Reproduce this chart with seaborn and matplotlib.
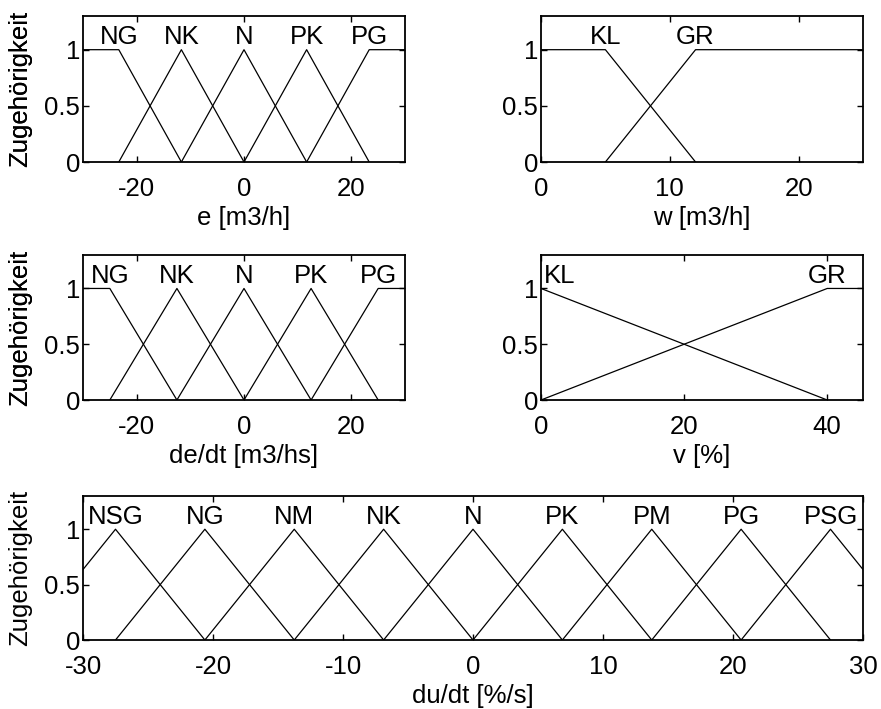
import matplotlib.pyplot as plt
import pandas as pd
import seaborn as sns

# membership functions, one list of breakpoints (x) and degrees (mu) per fuzzy set
e_sets = ["NG", "NK", "N", "PK", "PG"]
e_x = [[-30, -23.33, -11.67], [-23.33, -11.67, 0], [-11.67, 0, 11.67],
       [0, 11.67, 23.33], [11.67, 23.33, 30]]
e_mu = [[1, 1, 0], [0, 1, 0], [0, 1, 0], [0, 1, 0], [0, 1, 1]]

w_sets = ["KL", "GR"]
w_x = [[0, 5, 12], [5, 12, 25]]
w_mu = [[1, 1, 0], [0, 1, 1]]

de_sets = ["NG", "NK", "N", "PK", "PG"]
de_x = [[-30, -25, -12.5], [-25, -12.5, 0], [-12.5, 0, 12.5],
        [0, 12.5, 25], [12.5, 25, 30]]
de_mu = [[1, 1, 0], [0, 1, 0], [0, 1, 0], [0, 1, 0], [0, 1, 1]]

v_sets = ["KL", "GR"]
v_x = [[0, 40], [0, 40, 45]]
v_mu = [[1, 0], [0, 1, 1]]

du_sets = ["NSG", "NG", "NM", "NK", "N", "PK", "PM", "PG", "PSG"]
du_x = [[-34.375, -27.5, -20.625], [-27.5, -20.625, -13.75], [-20.625, -13.75, -6.875],
        [-13.75, -6.875, 0], [-6.875, 0, 6.875], [0, 6.875, 13.75],
        [6.875, 13.75, 20.625], [13.75, 20.625, 27.5], [20.625, 27.5, 34.375]]
du_mu = [[0, 1, 0]] * 9

sns.set_style("ticks", {"text.color": "black", "axes.labelcolor": "black",
                        "xtick.color": "black", "ytick.color": "black",
                        "axes.edgecolor": "black"})
plt.rcParams["font.family"] = ["Liberation Sans", "DejaVu Sans"]
plt.rcParams["axes.unicode_minus"] = False
FS = 18.5

W, H = 881, 709
fig = plt.figure(figsize=(W / 100, H / 100), dpi=100)


def draw_mf(rect, sets, xs, mus, xlim, xticks, xlabel):
    left, top, right, bottom = rect
    ax = fig.add_axes([left / W, 1 - bottom / H, (right - left) / W, (bottom - top) / H])
    rows = []
    for name, xx, mm in zip(sets, xs, mus):
        for x, m in zip(xx, mm):
            rows.append({"x": x, "mu": m, "set": name})
    df = pd.DataFrame(rows)
    sns.lineplot(data=df, x="x", y="mu", units="set", estimator=None, sort=False,
                 color="black", lw=0.9, legend=False, ax=ax)

    # set names above the peaks
    for name, xx, mm in zip(sets, xs, mus):
        tops = [x for x, m in zip(xx, mm) if m == 1 and xlim[0] < x < xlim[1]]
        if tops:
            ax.text(tops[0], 1.05, name, ha="center", va="baseline", fontsize=FS,
                    color="black")
        else:
            ax.text(xlim[0] + 0.01 * (xlim[1] - xlim[0]), 1.05, name,
                    ha="left", va="baseline", fontsize=FS, color="black")

    ax.set_xlim(xlim)
    ax.set_ylim(0, 1.3)
    ax.set_xticks(xticks)
    ax.set_yticks([0, 0.5, 1])
    ax.set_yticklabels(["0", "0.5", "1"])
    ax.tick_params(direction="in", top=True, right=True, length=4, width=1,
                   labelsize=FS, colors="black")
    ax.tick_params(axis="x", pad=11)
    ax.tick_params(axis="y", pad=2)
    for s in ax.spines.values():
        s.set_linewidth(1.3)
        s.set_color("black")
    ax.set_xlabel(xlabel, fontsize=FS, color="black")
    ax.set_ylabel("Zugehörigkeit", fontsize=FS, color="black")
    ax.xaxis.set_label_coords(0.5, -44 / (bottom - top))
    ax.yaxis.set_label_coords(-(left - 32) / (right - left), 0.5)
    return ax


draw_mf((83, 16, 405, 162), e_sets, e_x, e_mu, (-30, 30), [-20, 0, 20], "e [m3/h]")
draw_mf((541, 16, 863, 162), w_sets, w_x, w_mu, (0, 25), [0, 10, 20], "w [m3/h]")
draw_mf((83, 255, 405, 400), de_sets, de_x, de_mu, (-30, 30), [-20, 0, 20],
        "de/dt [m3/hs]")
draw_mf((541, 255, 863, 400), v_sets, v_x, v_mu, (0, 45), [0, 20, 40], "v [%]")
draw_mf((83, 496, 863, 640), du_sets, du_x, du_mu, (-30, 30),
        [-30, -20, -10, 0, 10, 20, 30], "du/dt [%/s]")

fig.savefig("out.png", dpi=100)
